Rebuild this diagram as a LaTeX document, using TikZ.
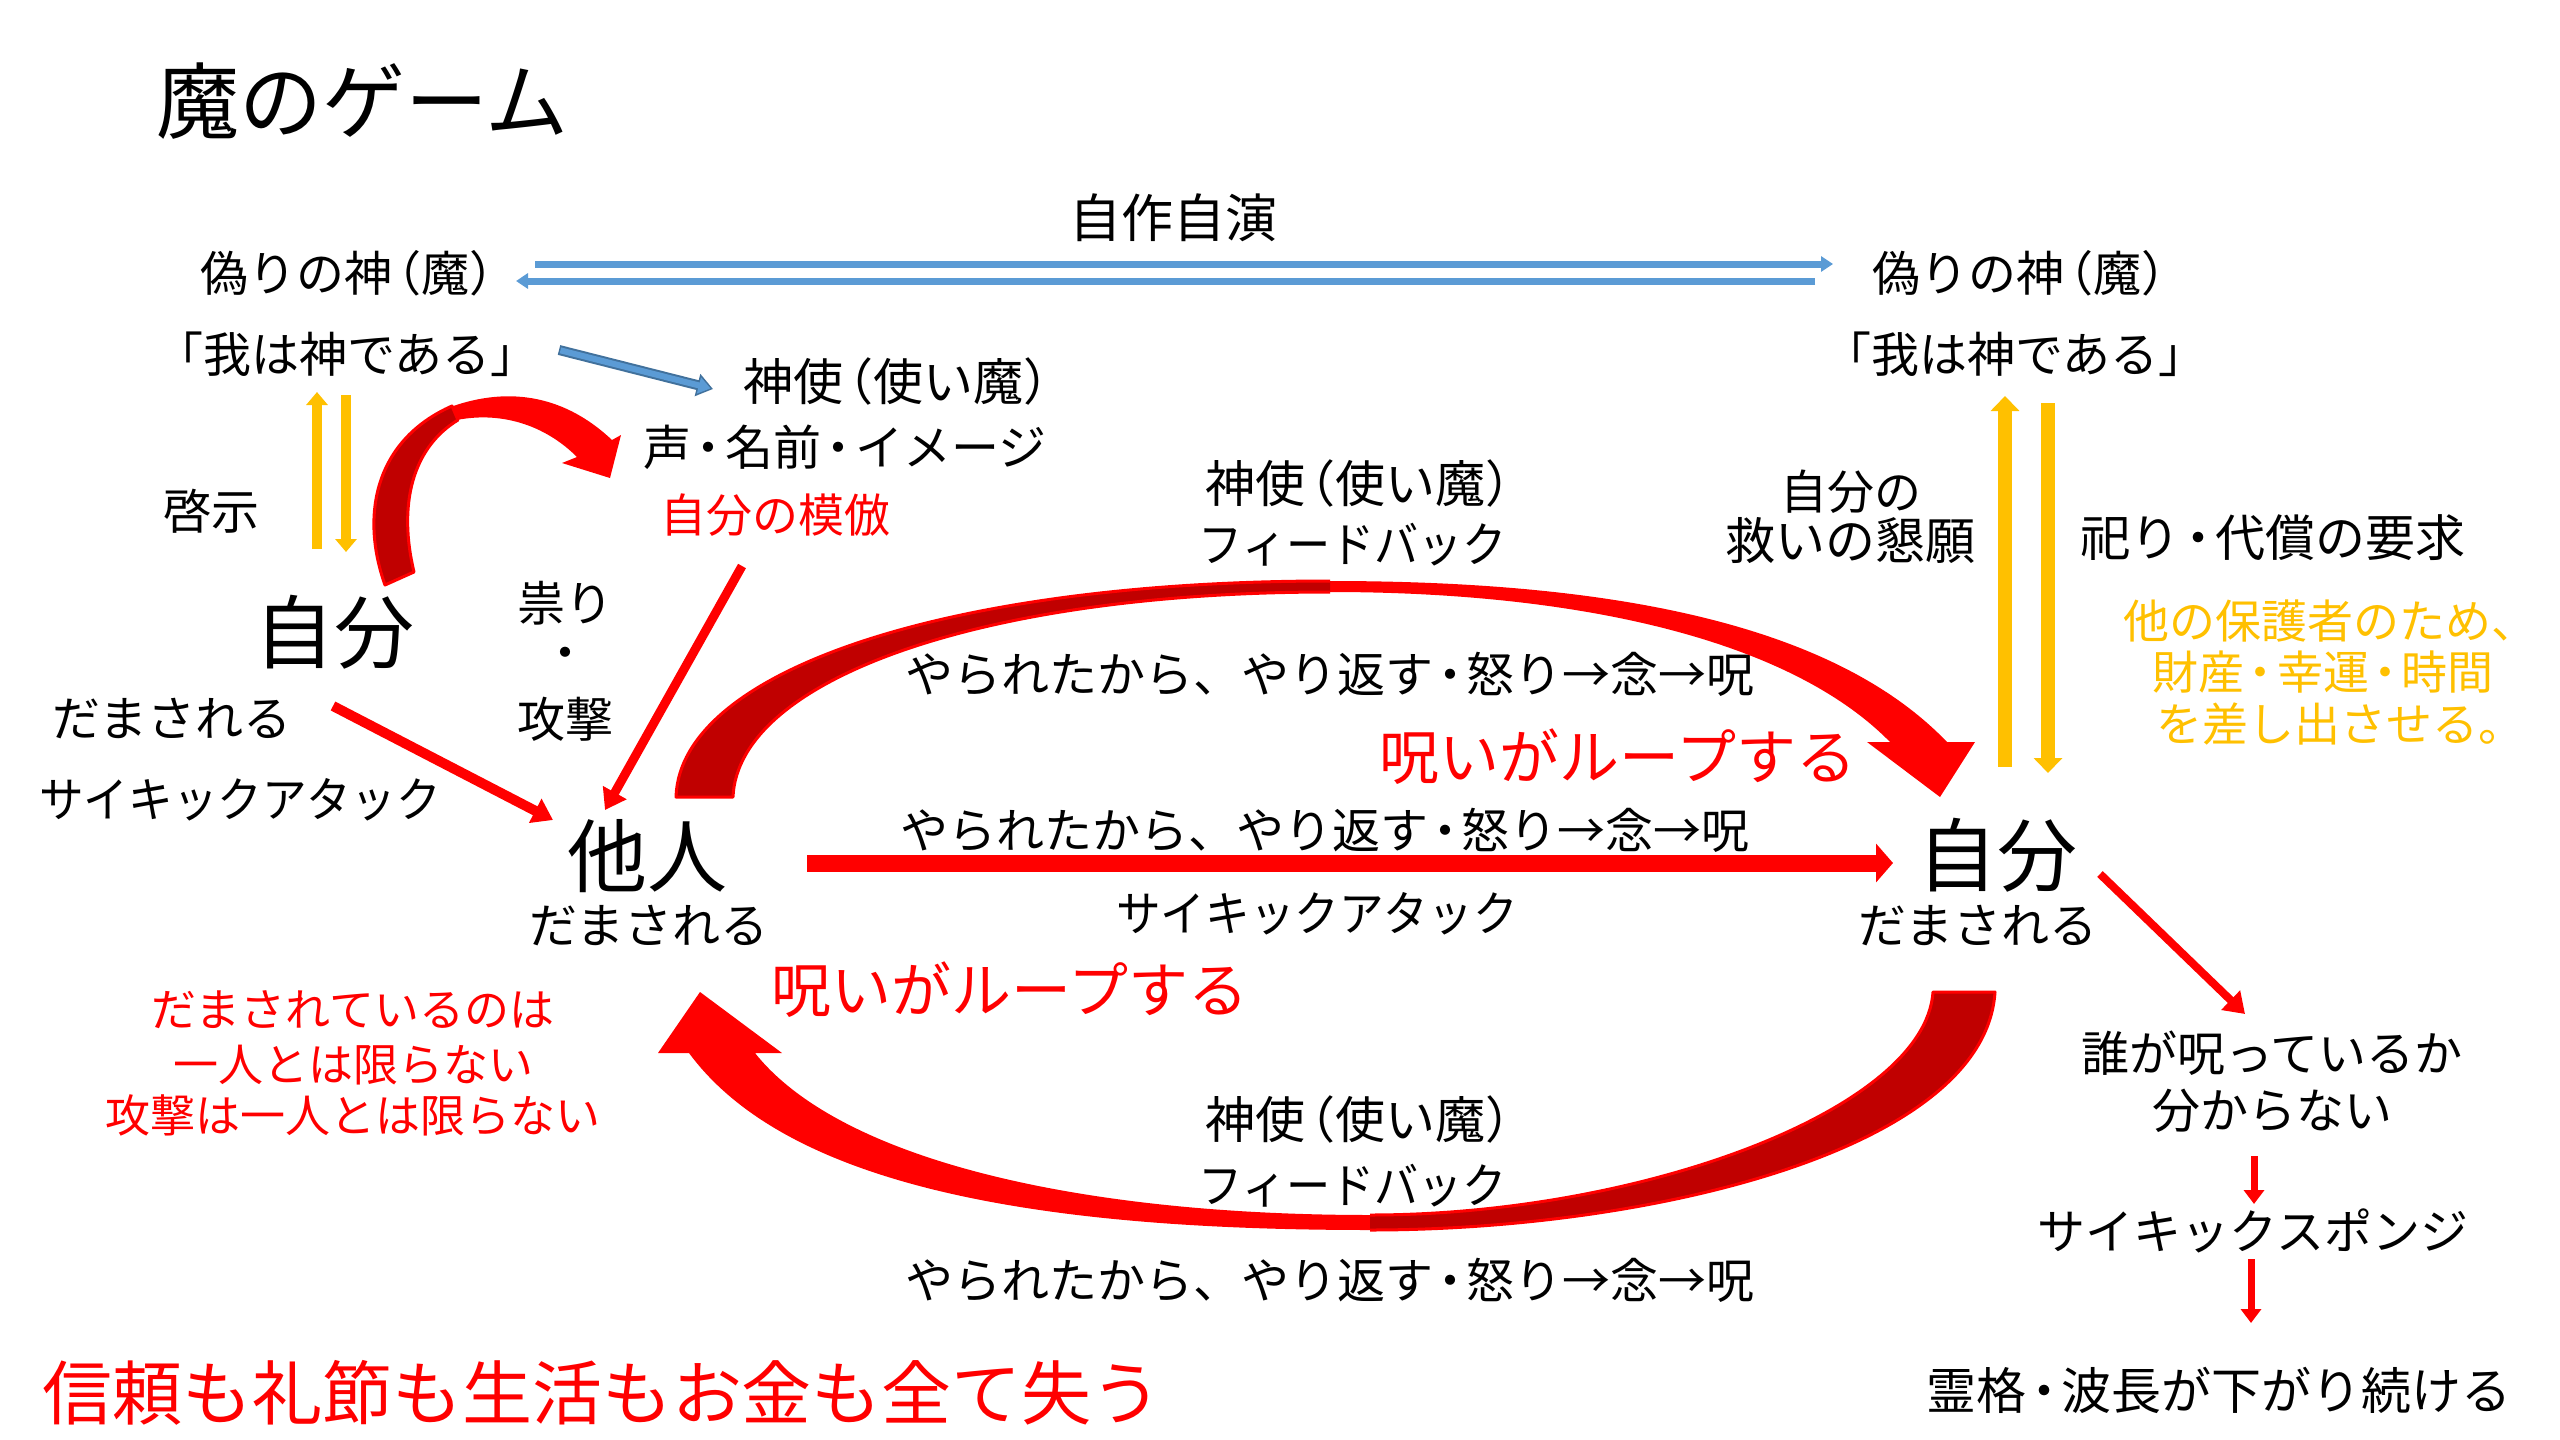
\documentclass[tikz,border=0pt]{standalone}
\usepackage{fontspec}
\newfontfamily\jp{Noto Sans CJK JP}
\newfontfamily\jpn[FakeStretch=0.93]{Noto Sans CJK JP}
\usetikzlibrary{arrows.meta,calc}
\definecolor{myred}{HTML}{FF0000}
\definecolor{dkred}{HTML}{C00000}
\definecolor{myyel}{HTML}{FFC000}
\definecolor{myblue}{HTML}{5B9BD5}
\definecolor{myblued}{HTML}{41719C}
\newcommand\jdot{\kern-0.15em・\kern-0.15em}
\newcommand\jlp{\kern-0.4em（}
\newcommand\jrp{）\kern-0.5em}
\begin{document}
\begin{tikzpicture}[x=1pt,y=-1pt,
  tx/.style={font=\jp\fontsize{48}{50}\selectfont, inner sep=0pt, anchor=center},
  txn/.style={font=\jpn\fontsize{48}{50}\selectfont, inner sep=0pt, anchor=center},
  txl/.style={font=\jp\fontsize{50}{52}\selectfont, inner sep=0pt, anchor=center},
  tbig/.style={font=\jp\fontsize{80}{84}\selectfont, inner sep=0pt, anchor=center},
  tloop/.style={font=\jp\fontsize{60}{64}\selectfont, inner sep=0pt, text=myred},
  tred/.style={font=\jp\fontsize{45}{47}\selectfont, inner sep=0pt, text=myred},
  tyel/.style={font=\jp\fontsize{46}{48}\selectfont, inner sep=0pt, text=myyel},
  bluearrow/.style={myblue, line width=7pt, -{Triangle[width=15pt,length=12pt]}},
  yelthin/.style={myyel, line width=10pt, -{Triangle[width=21pt,length=13pt]}},
  yelthick/.style={myyel, line width=14pt, -{Triangle[width=28pt,length=15pt]}},
  redline/.style={myred, line width=9pt, -{Triangle[width=26pt,length=20pt]}},
  reddown/.style={myred, line width=7pt, -{Triangle[width=20pt,length=14pt]}},
  redthick/.style={myred, line width=17pt, -{Triangle[width=38pt,length=17pt]}},
  darkpart/.style={fill=dkred, draw=myred, line width=3pt, line join=round}
]
\useasboundingbox[fill=white] (0,0) rectangle (2560,1440);

% ---------- texts ----------
\node[font=\jp\fontsize{83}{86}\selectfont, inner sep=0pt, anchor=west] (title) at (156,101) {魔のゲーム};
\node[font=\jp\fontsize{52}{54}\selectfont, inner sep=0pt] (jisaku) at (1173,218) {自作自演};
\node[tx] (nisegamiL) at (347,273) {偽りの神\jlp 魔\jrp};
\node[tx] (nisegamiR) at (2019,273) {偽りの神\jlp 魔\jrp};
\node[tx] (waregaL) at (347,354) {「我は神である」};
\node[tx] (waregaR) at (2015,354) {「我は神である」};
\node[txl] (shishiTop) at (896,381) {神使\jlp 使い魔\jrp};
\node[tx] (koe) at (845,447) {声\jdot 名前\jdot イメージ};
\node[font=\jp\fontsize{46}{48}\selectfont, inner sep=0pt, text=myred] (mohou) at (775,515) {自分の模倣};
\node[tx] (keiji) at (211,511) {啓示};
\node[tbig] (jibunL) at (334,632) {自分};
\node[tx] (tatari) at (565,603) {祟り};
\node[tx] (naka) at (565,659) {・};
\node[tx] (kougeki) at (565,719) {攻撃};
\node[tx] (damaL) at (172,719) {だまされる};
\node[txn] (psyL) at (240,800) {サイキックアタック};
\node[tbig] (tanin) at (647,856) {他人};
\node[tx] (damaT) at (649,926) {だまされる};
\node[tx] (yarareM) at (1325,830) {やられたから、やり返す\jdot 怒り→念→呪};
\node[txn] (psyM) at (1317,914) {サイキックアタック};
\node[tbig] (jibunR) at (1997,855) {自分};
\node[tx] (damaR) at (1978,926) {だまされる};
\node[txl] (shishiU) at (1358,483) {神使\jlp 使い魔\jrp};
\node[font=\jp\fontsize{48}{50}\selectfont, inner sep=0pt, xscale=0.92] (fbU) at (1353,545) {フィードバック};
\node[tx] (yarareU) at (1330,674) {やられたから、やり返す\jdot 怒り→念→呪};
\node[tloop] (loopU) at (1618,757) {呪いがループする};
\node[font=\jp\fontsize{47}{49}\selectfont, inner sep=0pt] (sukui1) at (1851,492) {自分の};
\node[font=\jp\fontsize{50}{52}\selectfont, inner sep=0pt] (sukui2) at (1850,541) {救いの懇願};
\node[txl] (matsuri) at (2273,538) {祀り\jdot 代償の要求};
\node[tyel] (hogo1) at (2330,621) {他の保護者のため、};
\node[tyel] (hogo2) at (2323,672) {財産\jdot 幸運\jdot 時間};
\node[tyel] (hogo3) at (2340,724) {を差し出させる。};
\node[tx] (dare1) at (2272,1053) {誰が呪っているか};
\node[tx] (dare2) at (2272,1111) {分からない};
\node[tx] (sponge) at (2253,1231) {サイキックスポンジ};
\node[txl] (reikaku) at (2219,1390) {霊格\jdot 波長が下がり続ける};
\node[txl] (shishiD) at (1358,1119) {神使\jlp 使い魔\jrp};
\node[font=\jp\fontsize{48}{50}\selectfont, inner sep=0pt, xscale=0.92] (fbD) at (1353,1186) {フィードバック};
\node[tx] (yarareD) at (1330,1280) {やられたから、やり返す\jdot 怒り→念→呪};
\node[tloop] (loopD) at (1010,990) {呪いがループする};
\node[tred] (hitori1) at (353,1010) {だまされているのは};
\node[tred] (hitori2) at (353,1065) {一人とは限らない};
\node[tred] (hitori3) at (353,1115) {攻撃は一人とは限らない};
\node[font=\jp\fontsize{70}{72}\selectfont, inner sep=0pt, text=myred] (ushinau) at (602,1393) {信頼も礼節も生活もお金も全て失う};

% ---------- connector end points ----------
\coordinate (bu1) at (535,264);  \coordinate (bu2) at (1833,264);
\coordinate (bl1) at (1815,281); \coordinate (bl2) at (516,281);
\coordinate (bd1) at (559,350);  \coordinate (bd2) at (713,389);
\coordinate (ylu1) at (317,549); \coordinate (ylu2) at (317,392);
\coordinate (yld1) at (346,395); \coordinate (yld2) at (346,552);
\coordinate (yru1) at (2005,767); \coordinate (yru2) at (2005,396);
\coordinate (yrd1) at (2048,403); \coordinate (yrd2) at (2048,773);
\coordinate (ra1) at (333,706);  \coordinate (ra2) at (553,820);
\coordinate (rb1) at (742,566);  \coordinate (rb2) at (605,810);
\coordinate (s1) at (807,863);   \coordinate (s2) at (1893,863);
\coordinate (rc1) at (2100,874); \coordinate (rc2) at (2245,1014);
\coordinate (d1a) at (2254,1156); \coordinate (d1b) at (2254,1204);
\coordinate (d2a) at (2251,1259); \coordinate (d2b) at (2251,1323);

% ---------- straight connectors ----------
\draw[bluearrow] (bu1) -- (bu2);
\draw[bluearrow] (bl1) -- (bl2);
\draw[myblued, line width=10pt, -{Triangle[width=22pt,length=16pt]}] (bd1) -- (bd2);
\draw[myblue, line width=6pt, shorten >=2.5pt, shorten <=1.5pt, -{Triangle[width=16pt,length=12pt]}] (bd1) -- (bd2);
\draw[yelthin] (ylu1) -- (ylu2);
\draw[yelthin] (yld1) -- (yld2);
\draw[yelthick] (yru1) -- (yru2);
\draw[yelthick] (yrd1) -- (yrd2);
\draw[redline, line width=10pt] (ra1) -- (ra2);
\draw[redline] (rb1) -- (rb2);
\draw[redline, line width=8pt] (rc1) -- (rc2);
\draw[reddown] (d1a) -- (d1b);
\draw[reddown] (d2a) -- (d2b);
\draw[redthick] (s1) -- (s2);

% ---------- small curved arrow (left) ----------
\fill[myred] (445,409) .. controls (520,380) and (575,405) .. (612,440)
  -- (621,435) -- (610,478) -- (562,463) -- (577,457)
  .. controls (545,425) and (500,410) .. (452,421) -- cycle;
\path[darkpart] (385,585) .. controls (360,515) and (375,440) .. (452,406)
  -- (458,420) .. controls (412,448) and (398,505) .. (414,572) -- cycle;

% ---------- upper big curved arrow ----------
\fill[myred] (676,797) .. controls (680,670) and (950,581) .. (1330,581)
  .. controls (1600,581) and (1830,620) .. (1947,742)
  -- (1975,742) -- (1940,797) -- (1867,742) -- (1890,742)
  .. controls (1790,640) and (1580,592) .. (1330,592)
  .. controls (980,592) and (738,680) .. (733,797) -- cycle;
\fill[dkred] (676,797) .. controls (680,670) and (950,581) .. (1330,581)
  -- (1330,592) .. controls (980,592) and (738,680) .. (733,797) -- cycle;
\draw[myred, line width=3pt, line join=round] (1330,581) .. controls (950,581) and (680,670) .. (676,797)
  -- (733,797) .. controls (738,680) and (980,592) .. (1330,592);

% ---------- lower big curved arrow ----------
\fill[myred] (1995,992) .. controls (1985,1150) and (1650,1230) .. (1370,1230)
  .. controls (1050,1230) and (790,1190) .. (689,1053)
  -- (658,1053) -- (700,992) -- (782,1053) -- (755,1053)
  .. controls (840,1160) and (1080,1215) .. (1370,1215)
  .. controls (1640,1215) and (1925,1110) .. (1933,992) -- cycle;
\fill[dkred] (1995,992) .. controls (1985,1150) and (1650,1230) .. (1370,1230)
  -- (1370,1215) .. controls (1640,1215) and (1925,1110) .. (1933,992) -- cycle;
\draw[myred, line width=3pt, line join=round] (1370,1230) .. controls (1650,1230) and (1985,1150) .. (1995,992)
  -- (1933,992) .. controls (1925,1110) and (1640,1215) .. (1370,1215);
\end{tikzpicture}
\end{document}
